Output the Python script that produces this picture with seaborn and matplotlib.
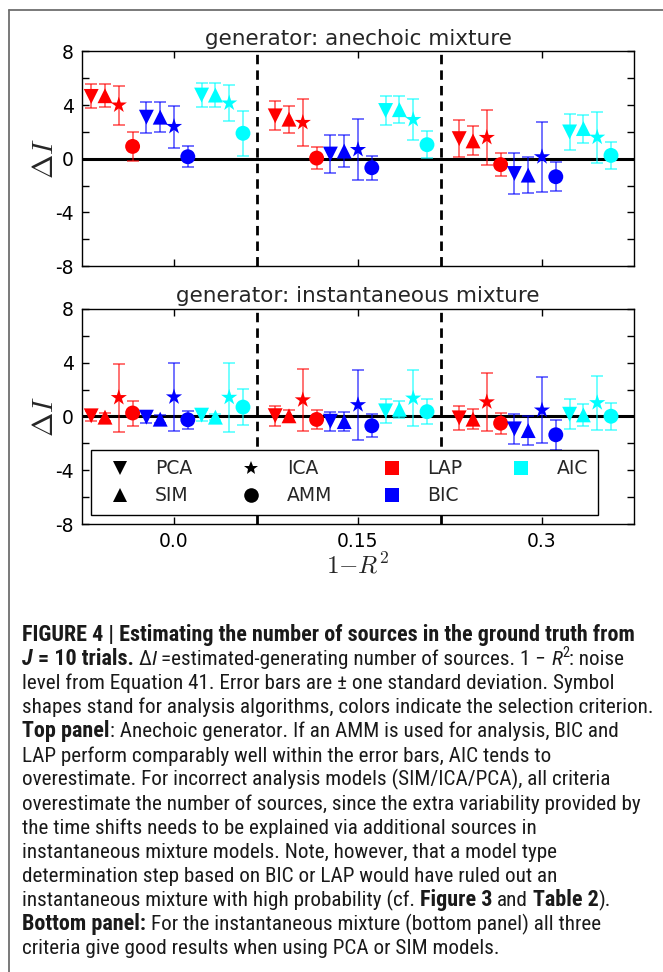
import numpy as np
import pandas as pd
import matplotlib
matplotlib.use("Agg")
import matplotlib.pyplot as plt
from matplotlib.lines import Line2D
from matplotlib.transforms import IdentityTransform
from matplotlib import font_manager as fm
import seaborn as sns

# ---------------- data ----------------
noise_levels = [0.0, 0.15, 0.3]
noise_labels = ["0.0", "0.15", "0.3"]
criteria = ["LAP", "BIC", "AIC"]
algorithms = ["PCA", "SIM", "ICA", "AMM"]

# ordered: noise level -> criterion (LAP, BIC, AIC) -> algorithm (PCA, SIM, ICA, AMM)
anechoic_mean = [4.65, 4.7, 4.0, 0.92,   3.1, 3.1, 2.4, 0.15,    4.75, 4.75, 4.15, 1.9,
                 3.2, 2.95, 2.7, 0.05,   0.35, 0.57, 0.68, -0.67, 3.6, 3.66, 2.92, 1.05,
                 1.5, 1.33, 1.58, -0.44, -1.1, -1.22, 0.14, -1.34, 2.0, 2.25, 1.6, 0.25]
anechoic_sd = [0.9, 0.87, 1.45, 1.1,    1.15, 1.1, 1.57, 0.8,    0.92, 0.9, 1.36, 1.68,
               1.08, 1.0, 1.77, 0.82,   1.39, 1.22, 2.25, 0.9,   1.05, 1.02, 1.55, 1.0,
               1.37, 1.08, 2.08, 0.88,  1.56, 1.34, 2.62, 1.1,   1.34, 1.05, 1.9, 1.0]
instant_mean = [0.05, -0.05, 1.4, 0.26,  -0.05, -0.2, 1.45, -0.24,  0.1, -0.05, 1.42, 0.7,
                0.06, 0.05, 1.23, -0.22, -0.35, -0.38, 0.87, -0.69, 0.42, 0.53, 1.36, 0.36,
                -0.1, -0.2, 1.08, -0.5,  -0.92, -1.05, 0.47, -1.36, 0.17, 0.12, 1.02, 0.02]
instant_sd = [0.35, 0.3, 2.52, 0.93,   0.45, 0.3, 2.55, 0.68,   0.4, 0.2, 2.55, 1.33,
              0.73, 0.45, 2.3, 0.72,   0.71, 0.68, 2.6, 0.86,   0.87, 0.65, 2.1, 0.93,
              0.9, 0.74, 2.15, 0.79,   1.1, 1.05, 2.46, 1.12,   1.12, 0.82, 2.0, 1.02]

panel_titles = ["generator: anechoic mixture", "generator: instantaneous mixture"]

crit_colors = {"LAP": "#ff0000", "BIC": "#0000ff", "AIC": "#00ffff"}
alg_markers = {"PCA": "v", "SIM": "^", "ICA": "*", "AMM": "o"}
alg_sizes = {"PCA": 115, "SIM": 115, "ICA": 150, "AMM": 115}

caption_lines = [
    [("FIGURE 4 | Estimating the number of sources in the ground truth from", "b")],
    [("J", "bi"), (" = 10 trials.", "b"), (" \u0394", "n"), ("I", "i"),
     (" =estimated-generating number of sources. 1 \u2212 ", "n"), ("R", "i"), ("2", "sup"), (": noise", "n")],
    [("level from Equation 41. Error bars are \u00b1 one standard deviation. Symbol", "n")],
    [("shapes stand for analysis algorithms, colors indicate the selection criterion.", "n")],
    [("Top panel", "b"), (": Anechoic generator. If an AMM is used for analysis, BIC and", "n")],
    [("LAP perform comparably well within the error bars, AIC tends to", "n")],
    [("overestimate. For incorrect analysis models (SIM/ICA/PCA), all criteria", "n")],
    [("overestimate the number of sources, since the extra variability provided by", "n")],
    [("the time shifts needs to be explained via additional sources in", "n")],
    [("instantaneous mixture models. Note, however, that a model type", "n")],
    [("determination step based on BIC or LAP would have ruled out an", "n")],
    [("instantaneous mixture with high probability (cf. ", "n"), ("Figure 3", "b"), (" and ", "n"),
     ("Table 2", "b"), (").", "n")],
    [("Bottom panel:", "b"), (" For the instantaneous mixture (bottom panel) all three", "n")],
    [("criteria give good results when using PCA or SIM models.", "n")],
]

# ---------------- style ----------------
sns.set_style("ticks")
plt.rcParams["font.family"] = ["DejaVu Sans"]
plt.rcParams["mathtext.fontset"] = "cm"

W, H = 663, 972
fig = plt.figure(figsize=(W / 100, H / 100), dpi=100)
fig.patch.set_facecolor("white")

step = 0.01125
order = [(n, c, a) for n in range(3) for c in criteria for a in algorithms]


def build_df(means, sds):
    rows = []
    for k, (n, c, a) in enumerate(order):
        idx = criteria.index(c) * 4 + algorithms.index(a)
        rows.append({"x": noise_levels[n] + (idx - 6) * step, "y": means[k], "sd": sds[k],
                     "criterion": c, "algorithm": a})
    return pd.DataFrame(rows)


def px_axes(x0, y0, x1, y1):
    return [x0 / W, 1 - y1 / H, (x1 - x0) / W, (y1 - y0) / H]


axes = [fig.add_axes(px_axes(82, 51.5, 634, 266)), fig.add_axes(px_axes(82, 309, 634, 524))]
datasets = [(anechoic_mean, anechoic_sd), (instant_mean, instant_sd)]

for p, ax in enumerate(axes):
    df = build_df(*datasets[p])
    ax.axhline(0, color="black", lw=2.2, zorder=1)
    for xd in [0.0675, 0.2175]:
        ax.axvline(xd, color="black", lw=2.0, ls=(0, (3.4, 2.2)), zorder=1)
    for c in criteria:
        sub = df[df.criterion == c]
        ax.errorbar(sub.x, sub.y, yerr=sub.sd, fmt="none", ecolor=crit_colors[c],
                    elinewidth=1.1, capsize=4, capthick=1.1, alpha=0.7, zorder=2)
    sns.scatterplot(data=df, x="x", y="y", hue="criterion", style="algorithm",
                    size="algorithm", sizes=alg_sizes,
                    palette=crit_colors, markers=alg_markers, linewidth=0,
                    legend=False, ax=ax, zorder=3)
    ax.set_xlim(-0.075, 0.375)
    ax.set_ylim(-8, 8)
    ax.set_yticks(np.arange(-8, 9, 2))
    ax.set_yticklabels([str(v) if v % 4 == 0 else "" for v in range(-8, 9, 2)])
    ax.set_xticks(noise_levels)
    ax.set_xticklabels(noise_labels)
    ax.tick_params(direction="in", top=True, right=True, length=5, width=1,
                   labelsize=13.5, pad=6, colors="black")
    for sp in ax.spines.values():
        sp.set_visible(True)
        sp.set_color("black")
        sp.set_linewidth(1.0)
    ax.set_title(panel_titles[p], fontsize=15.5, pad=5)
    ax.set_ylabel(r"$\Delta I$", fontsize=21, labelpad=-3)
    ax.set_facecolor("white")
    if p == 0:
        ax.tick_params(labelbottom=False)
        ax.set_xlabel("")
    else:
        ax.set_xlabel(r"$1{-}R^2$", fontsize=18, labelpad=1)

# legend on bottom panel
handles = [Line2D([], [], marker=alg_markers[a], color="black", ls="none", ms=10.5, mew=0) for a in algorithms]
handles += [Line2D([], [], marker="s", color=crit_colors[c], ls="none", ms=10.5, mew=0) for c in criteria]
labels = algorithms + criteria
leg = axes[1].legend(handles, labels, ncol=4, loc="lower left", fontsize=13.5, frameon=True,
                     fancybox=False, framealpha=1, edgecolor="black", borderaxespad=0.5,
                     handlelength=2.0, handletextpad=0.9, columnspacing=2.15, labelspacing=0.42,
                     borderpad=0.5)
leg.get_frame().set_linewidth(1.0)

# outer frame
fig.add_artist(Line2D([8.5 / W, 8.5 / W], [0, 1 - 10.5 / H], transform=fig.transFigure,
                      color="#6e6e6e", lw=1.3))
fig.add_artist(Line2D([8.5 / W, 1.0], [1 - 10.5 / H, 1 - 10.5 / H], transform=fig.transFigure,
                      color="#6e6e6e", lw=1.3))


# ---------------- caption ----------------
def has_font(name):
    try:
        fm.findfont(fm.FontProperties(family=name), fallback_to_default=False)
        return True
    except Exception:
        return False


cap_family = "Liberation Sans"
for cand in ["Roboto Condensed", "Liberation Sans Narrow", "Arial Narrow", "Roboto"]:
    if has_font(cand):
        cap_family = cand
        break

fig.canvas.draw()
renderer = fig.canvas.get_renderer()
bold_scale = 1.0


def style_kw(st, size):
    kw = {"family": [cap_family, "DejaVu Sans"], "fontsize": size, "color": "#1a1a1a"}
    if "b" in st:
        kw["fontweight"] = "bold"
        kw["fontsize"] = size * bold_scale
    if "i" in st:
        kw["fontstyle"] = "italic"
    if st == "sup":
        kw["fontsize"] = size * 0.68
    return kw


def text_width(s, kw):
    t = fig.text(0, 0, s, transform=IdentityTransform(), **kw)
    w = t.get_window_extent(renderer).width
    t.remove()
    return w


def space_w(kw):
    return text_width("x x", kw) - text_width("xx", kw)


def layout_line(runs, x, y, size, draw=True):
    for s, st in runs:
        kw = style_kw(st, size)
        lead = len(s) - len(s.lstrip(" "))
        trail = len(s) - len(s.rstrip(" "))
        core = s.strip(" ")
        sw = space_w(kw) if (lead or trail) else 0
        x += lead * sw
        if draw:
            yy = y + (size * 0.55 if st == "sup" else 0)
            t = fig.text(x, yy, core, transform=IdentityTransform(), va="baseline", ha="left", **kw)
            x += t.get_window_extent(renderer).width
        else:
            x += text_width(core, kw)
        x += trail * sw
    return x


# fit caption size to the reference line widths
x0_cap = 22
ref_size = 14.0
w8 = layout_line(caption_lines[7], 0, 0, ref_size, draw=False)
cap_size = ref_size * 621.0 / w8
w1 = layout_line(caption_lines[0], 0, 0, cap_size, draw=False)
bold_scale = min(1.05, max(1.0, 626.0 / w1))

y_first = 641
line_gap = 24.1
for li, runs in enumerate(caption_lines):
    layout_line(runs, x0_cap, H - (y_first + li * line_gap), cap_size, draw=True)

fig.savefig("out.png", dpi=100, facecolor="white")
